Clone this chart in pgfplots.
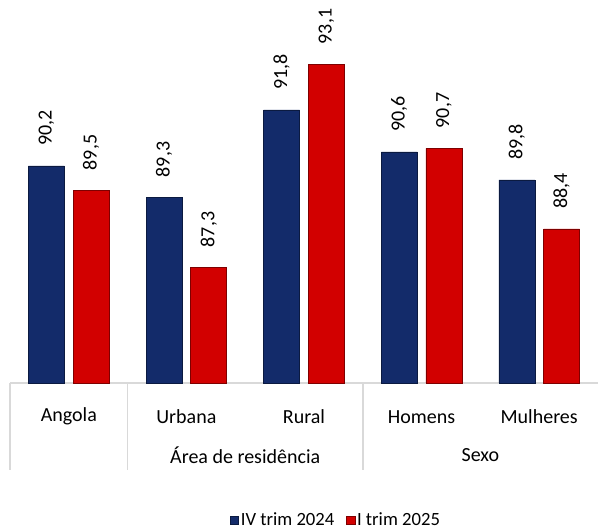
\documentclass[border=0pt]{standalone}
\usepackage{fontspec}
\setmainfont{Carlito}
\usepackage{pgfplots}
\pgfplotsset{compat=1.18}
\definecolor{barblue}{HTML}{132B6A}
\definecolor{barred}{HTML}{D20000}
\definecolor{sepgray}{HTML}{D9D9D9}

\begin{document}
\begin{tikzpicture}[font=\fontsize{15}{18}\selectfont]
% fixed page frame: the axis box starts at (0,0)
\path[use as bounding box] (-7.5pt,-111pt) rectangle (442.5pt,287.25pt);
\begin{axis}[
  scale only axis, width=441pt, height=262.5pt,
  xmin=0, xmax=5, ymin=0, ymax=10,
  clip=false,
  ybar=6.5pt, bar width=27pt,
  y filter/.expression={y-84},
  point meta=rawy,
  axis x line*=bottom, axis y line=none,
  x axis line style={draw=sepgray, line width=1.2pt, -},
  xtick={0.5,1.5,2.5,3.5,4.5},
  xticklabels={Angola,Urbana,Rural,Homens,Mulheres},
  xtick style={draw=none},
  xticklabel style={anchor=center, yshift=-21pt},
  nodes near coords,
  every node near coord/.append style={rotate=90, anchor=west, inner xsep=15pt, font=\fontsize{15}{18}\selectfont, text=black},
  legend style={at={(0.554,0)}, anchor=center, yshift=-103pt, draw=none,
    legend columns=2, font=\fontsize{14}{17}\selectfont,
    nodes={inner xsep=1.5pt},
    /tikz/every even column/.append style={column sep=7pt}},
  legend image code/.code={\fill[#1] (0pt,-3.3pt) rectangle (6.6pt,3.3pt);},
  /pgf/number format/use comma,
  /pgf/number format/fixed,
  /pgf/number format/fixed zerofill,
  /pgf/number format/precision=1,
  /pgf/number format/assume math mode=true,
]
\addplot[fill=barblue, draw=barblue!60!black] coordinates {
  (0.5,90.2) (1.5,89.3) (2.5,91.8) (3.5,90.6) (4.5,89.8)};
\addplot[fill=barred, draw=barred!60!black] coordinates {
  (0.5,89.5) (1.5,87.3) (2.5,93.1) (3.5,90.7) (4.5,88.4)};
\legend{IV trim 2024, I trim 2025}
\draw[sepgray, line width=1.2pt] (axis cs:0,0) -- ([yshift=-65pt]axis cs:0,0);
\draw[sepgray, line width=1.2pt] (axis cs:1,0) -- ([yshift=-65pt]axis cs:1,0);
\draw[sepgray, line width=1.2pt] (axis cs:3,0) -- ([yshift=-65pt]axis cs:3,0);
\node at ([yshift=-54pt]axis cs:2,0) {Área de residência};
\node at ([yshift=-54pt]axis cs:4,0) {Sexo};
\end{axis}
\end{tikzpicture}
\end{document}
